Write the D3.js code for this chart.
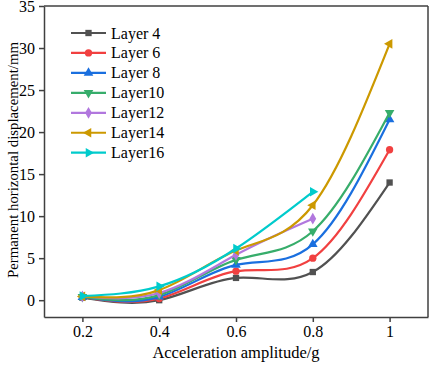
<!DOCTYPE html>
<html>
<head>
<meta charset="utf-8">
<script src="https://cdn.jsdelivr.net/npm/d3@7"></script>
<style>
  body { margin: 0; background: #fff; }
  svg text { font-family: "Liberation Serif", "Times New Roman", serif; fill: #000; }
</style>
</head>
<body>
<div id="chart"></div>
<script>
// data
var amplitudes = [0.2, 0.4, 0.6, 0.8, 1.0];
var layerNames = ["Layer 4", "Layer 6", "Layer 8", "Layer10", "Layer12", "Layer14", "Layer16"];
var layer4  = [0.3, 0.0, 2.65, 3.35, 14.0];
var layer6  = [0.35, 0.2, 3.45, 5.0, 17.9];
var layer8  = [0.35, 0.4, 4.2, 6.65, 21.5];
var layer10 = [0.4, 0.6, 4.8, 8.2, 22.3];
var layer12 = [0.45, 0.85, 5.4, 9.7];
var layer14 = [0.45, 1.2, 5.9, 11.3, 30.5];
var layer16 = [0.5, 1.65, 6.15, 12.9];
var xTicks = [0.2, 0.4, 0.6, 0.8, 1];
var yTicks = [0, 5, 10, 15, 20, 25, 30, 35];

var series = [layer4, layer6, layer8, layer10, layer12, layer14, layer16];
var colors = ["#515151", "#F14040", "#1A6FDF", "#37AD6B", "#B177DE", "#CC9900", "#00CBCC"];
// marker shape + rotation
var shapes = [
  [d3.symbolSquare, 0], [d3.symbolCircle, 0], [d3.symbolTriangle, 0],
  [d3.symbolTriangle, 180], [d3.symbolDiamond, 0], [d3.symbolTriangle, -90],
  [d3.symbolTriangle, 90]
];

var svgWidth = 429, svgHeight = 367;
var margin = { top: 6, right: 1, bottom: 50, left: 44 };
var width = svgWidth - margin.left - margin.right;
var height = svgHeight - margin.top - margin.bottom;
var serif = "'Liberation Serif', 'Times New Roman', serif";

var svg = d3.select("#chart").append("svg")
    .attr("width", svgWidth)
    .attr("height", svgHeight);
var g = svg.append("g")
    .attr("transform", "translate(" + margin.left + "," + margin.top + ")");

var x = d3.scaleLinear().domain([0.1, 1.1]).range([0, width]);
var y = d3.scaleLinear().domain([-2, 35]).range([height, 0]);

// axes
var xAxis = g.append("g")
    .attr("transform", "translate(0," + height + ")")
    .call(d3.axisBottom(x).tickValues(xTicks).tickSize(5).tickSizeOuter(0)
        .tickFormat(function(d) { return d === 1 ? "1" : d3.format(".1f")(d); }));
var yAxis = g.append("g")
    .call(d3.axisLeft(y).tickValues(yTicks).tickSize(5).tickSizeOuter(0));

[xAxis, yAxis].forEach(function(a) {
  a.attr("font-family", serif);
  a.selectAll("path, line").attr("stroke", "#404040").attr("stroke-width", 1.5);
  a.selectAll("text").style("font-family", serif).style("font-size", "16px").attr("fill", "#000");
});
xAxis.selectAll("text").attr("y", 9);
yAxis.selectAll("text").attr("x", -9);

// frame top and right
g.append("line").attr("x1", 0).attr("x2", width).attr("y1", 0).attr("y2", 0)
    .attr("stroke", "#404040").attr("stroke-width", 1.5);
g.append("line").attr("x1", width).attr("x2", width).attr("y1", 0).attr("y2", height)
    .attr("stroke", "#404040").attr("stroke-width", 1.5);

var line = d3.line()
    .x(function(d, i) { return x(amplitudes[i]); })
    .y(function(d) { return y(d); })
    .curve(d3.curveNatural);

function marker(gSel, i, cx, cy) {
  gSel.append("path")
      .attr("d", d3.symbol().type(shapes[i][0]).size(i === 1 ? 42 : 40)())
      .attr("transform", "translate(" + cx + "," + cy + ") rotate(" + shapes[i][1] + ")")
      .attr("fill", colors[i]);
}

series.forEach(function(vals, i) {
  var sg = g.append("g");
  sg.append("path")
      .attr("d", line(vals))
      .attr("fill", "none")
      .attr("stroke", colors[i])
      .attr("stroke-width", 2.2);
  vals.forEach(function(v, j) {
    marker(sg, i, x(amplitudes[j]), y(v));
  });
});

// legend
var legend = svg.append("g");
layerNames.forEach(function(name, i) {
  var ly = 33 + i * 19.95;
  legend.append("line").attr("x1", 71).attr("x2", 106).attr("y1", ly).attr("y2", ly)
      .attr("stroke", colors[i]).attr("stroke-width", 2.2);
  marker(legend, i, 88.5, ly);
  legend.append("text").attr("x", 111).attr("y", ly + 5.5)
      .style("font-family", serif)
      .style("font-size", "16px").text(name);
});

// axis titles
svg.append("text")
    .attr("x", margin.left + x(0.6))
    .attr("y", 358)
    .attr("text-anchor", "middle")
    .style("font-family", serif)
    .style("font-size", "16.5px")
    .text("Acceleration amplitude/g");
svg.append("text")
    .attr("transform", "translate(18,160) rotate(-90)")
    .attr("text-anchor", "middle")
    .style("font-family", serif)
    .style("font-size", "14.8px")
    .text("Permanent horizontal displacement/mm");
</script>
</body>
</html>
